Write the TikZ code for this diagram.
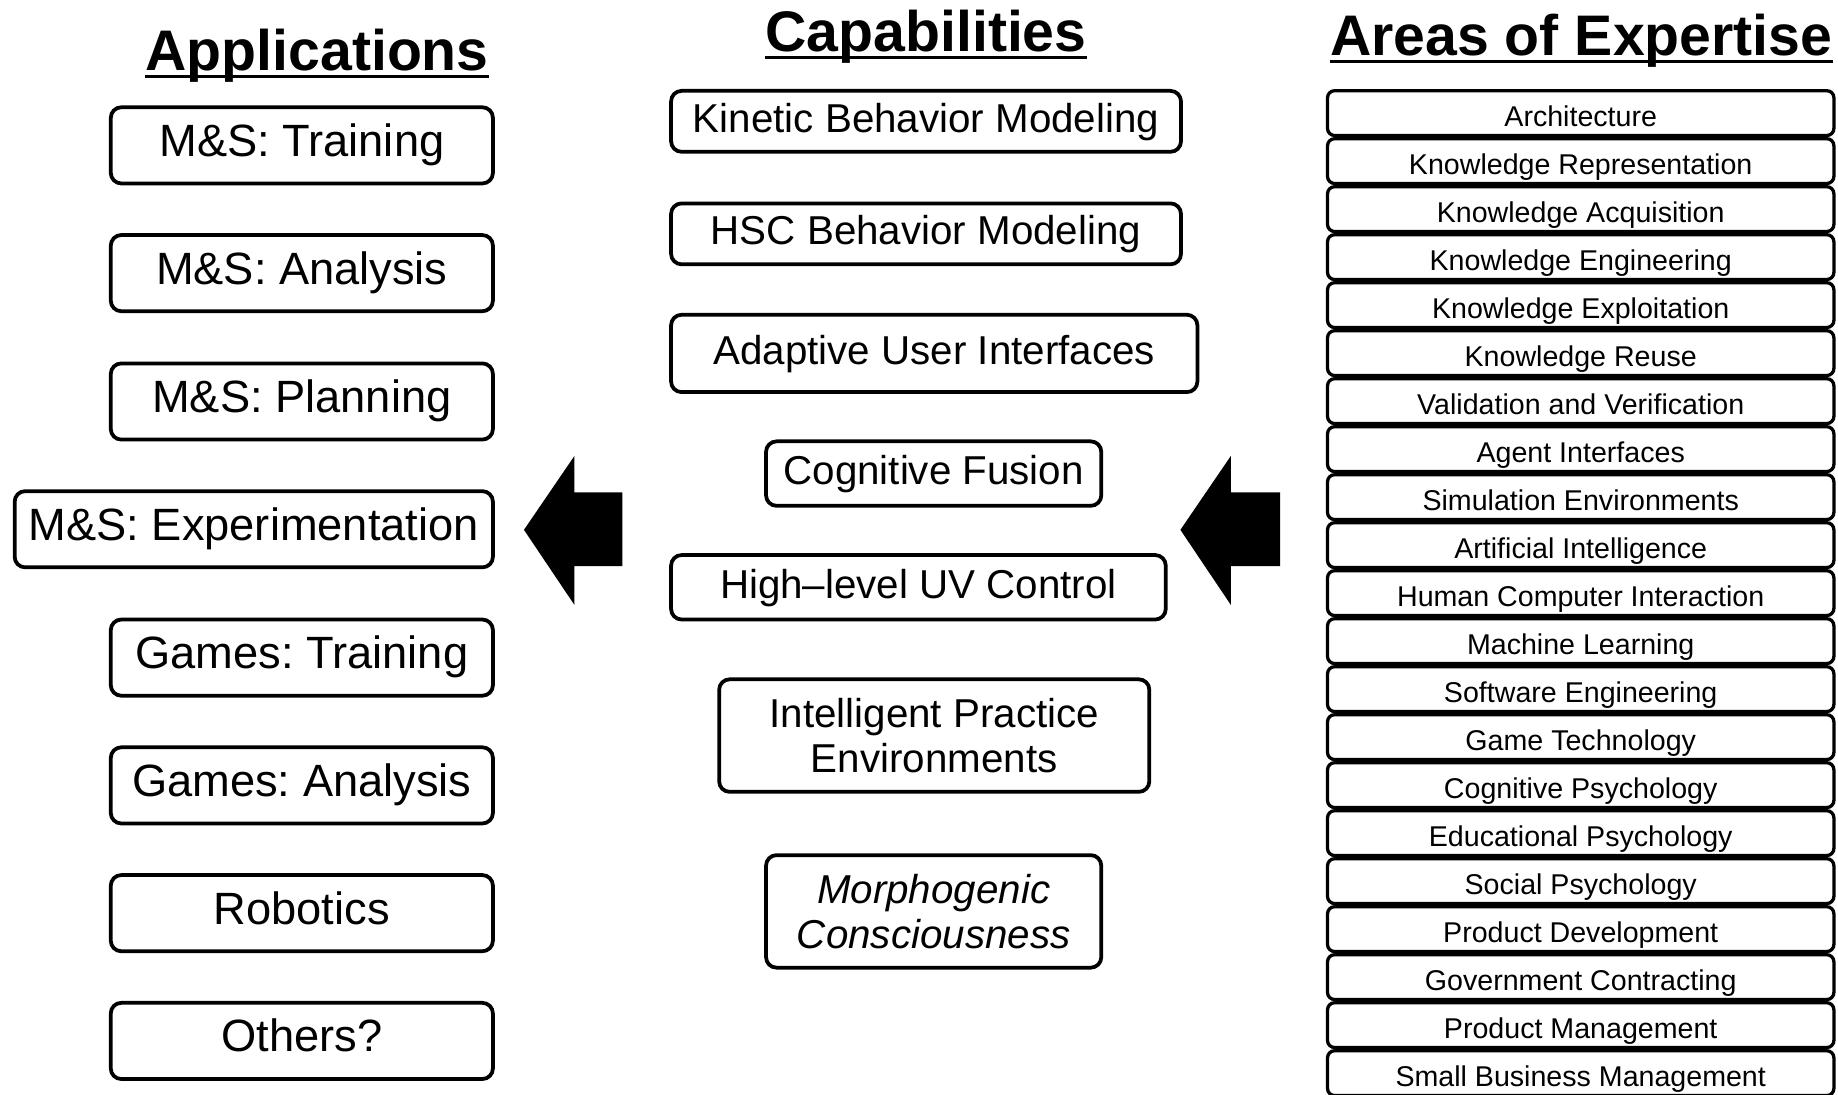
\documentclass[tikz,border=0pt]{standalone}
\usepackage{fontspec}
\setmainfont{Liberation Sans}
\begin{document}
\frenchspacing
\begin{tikzpicture}[x=0.5pt,y=-0.5pt,
  appbox/.style={draw, line width=1.6pt, rounded corners=4.5pt, minimum width=163pt, minimum height=32.5pt,
    font=\fontsize{19.3}{22}\selectfont, text height=14pt, text depth=4.7pt, inner sep=0pt},
  capbox/.style={draw, line width=1.6pt, rounded corners=4.5pt, align=center, inner sep=0pt,
    font=\fontsize{17.2}{19}\selectfont},
  oneline/.style={text height=13pt, text depth=3.7pt},
  areabox/.style={draw, line width=1.4pt, rounded corners=3pt, minimum width=216pt, minimum height=19.1pt,
    font=\fontsize{12.2}{14}\selectfont, text height=11.5pt, text depth=0pt, inner sep=0pt},
  coltitle/.style={font=\fontsize{24.4}{28}\selectfont\bfseries, inner sep=0pt, anchor=base},
  uline/.style={line width=1.2pt},
  blockarrow/.style={fill=black, draw=none}]
\clip (0,0) rectangle (1568,934);
\fill[white] (0,0) rectangle (1568,934);

% titles
\node[coltitle] (tapp) at (270.5,60) {Applications};
\node[coltitle] (tcap) at (790,44) {Capabilities};
\node[coltitle] (tarea) at (1349,47) {Areas of Expertise};
\foreach \n in {tapp,tcap,tarea}
  \draw[uline] ([yshift=-2.6pt]\n.base west) -- ([yshift=-2.6pt]\n.base east);

% applications
\node[appbox] (a1) at (257.5,124) {M\&S: Training};
\node[appbox] (a2) at (257.5,233) {M\&S: Analysis};
\node[appbox] (a3) at (257.5,342.5) {M\&S: Planning};
\node[appbox, minimum width=204pt] (a4) at (216.5,451.5) {M\&S: Experimentation};
\node[appbox] (a5) at (257.5,561) {Games: Training};
\node[appbox] (a6) at (257.5,670) {Games: Analysis};
\node[appbox] (a7) at (257.5,779) {Robotics};
\node[appbox] (a8) at (257.5,888) {Others?};

% capabilities
\node[capbox, oneline, minimum width=217.5pt, minimum height=26pt] (c1) at (790,103.5) {Kinetic Behavior Modeling};
\node[capbox, oneline, minimum width=217.5pt, minimum height=26pt] (c2) at (790,199.5) {HSC Behavior Modeling};
\node[capbox, oneline, minimum width=224.5pt, minimum height=33pt] (c3) at (797,301.5) {Adaptive User Interfaces};
\node[capbox, oneline, minimum width=143pt, minimum height=27.5pt] (c4) at (796.5,404) {Cognitive Fusion};
\node[capbox, oneline, minimum width=211pt, minimum height=27.5pt] (c5) at (783.5,501) {High–level UV Control};
\node[capbox, minimum width=183.5pt, minimum height=48pt] (c6) at (797,627.5) {Intelligent Practice\\Environments};
\node[capbox, minimum width=143pt, minimum height=48pt, font=\fontsize{17.2}{19}\selectfont\itshape] (c7) at (796.5,777.5) {Morphogenic\\Consciousness};

% areas of expertise
\foreach \t [count=\i from 0] in {Architecture, Knowledge Representation, Knowledge Acquisition,
  Knowledge Engineering, Knowledge Exploitation, Knowledge Reuse, Validation and Verification,
  Agent Interfaces, Simulation Environments, Artificial Intelligence, Human Computer Interaction,
  Machine Learning, Software Engineering, Game Technology, Cognitive Psychology,
  Educational Psychology, Social Psychology, Product Development, Government Contracting,
  Product Management, Small Business Management}
  \node[areabox] (e\i) at (1348.5,{76+40.95*(\i+0.5)}) {\t};

% block arrows
\fill[blockarrow] (447,452) -- (490,389) -- (490,420) -- (531,420) -- (531,483) -- (490,483) -- (490,516) -- cycle;
\fill[blockarrow] (1007,452) -- (1050,389) -- (1050,420) -- (1092,420) -- (1092,483) -- (1050,483) -- (1050,516) -- cycle;
\end{tikzpicture}
\end{document}
